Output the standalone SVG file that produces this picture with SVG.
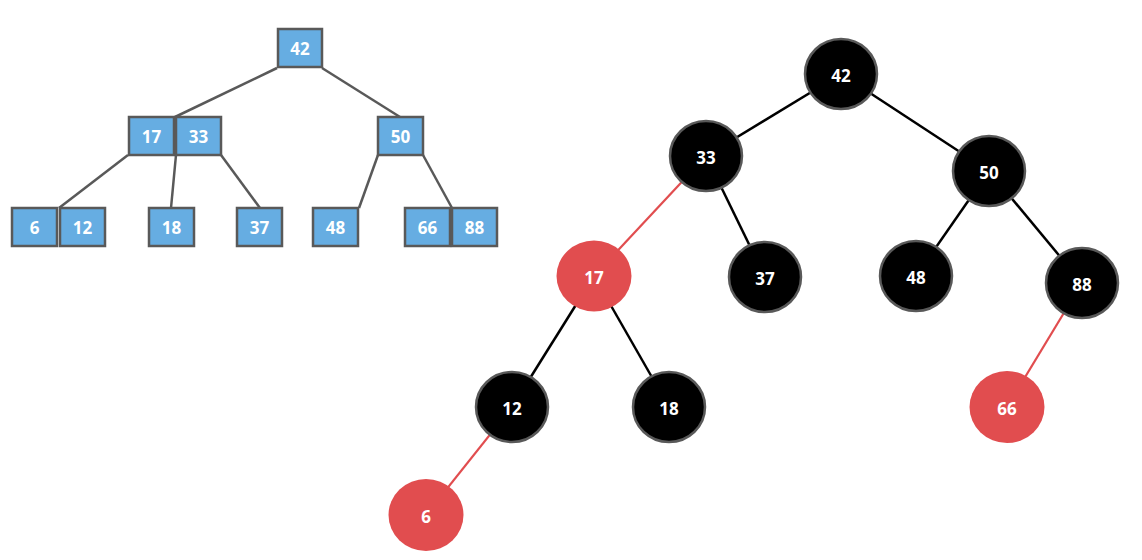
<svg xmlns="http://www.w3.org/2000/svg" width="1142" height="560" viewBox="0 0 1142 560">
<style>
.box{fill:#66ADE2;stroke:#595959;stroke-width:2.5}
.blk{fill:#000;stroke:#595959;stroke-width:2.5}
.red{fill:#E14D4F}
.t{fill:#fff;font-family:"Open Sans","Noto Sans","DejaVu Sans",sans-serif;font-weight:bold;font-size:17px;text-anchor:middle;dominant-baseline:central}
.g{stroke:#595959;stroke-width:2.5;fill:none}
.k{stroke:#000;stroke-width:2.5;fill:none}
.r{stroke:#E14D4F;stroke-width:2.2;fill:none}
</style>
<rect width="1142" height="560" fill="#fff"/>
<g id="connectors">
<line class="g" x1="277" y1="68" x2="175" y2="117"/>
<line class="g" x1="322" y1="68" x2="400" y2="117"/>
<line class="g" x1="128" y1="155" x2="59" y2="208"/>
<line class="g" x1="176" y1="155" x2="171" y2="208"/>
<line class="g" x1="221" y1="155" x2="260" y2="208"/>
<line class="g" x1="378" y1="155" x2="359" y2="208"/>
<line class="g" x1="423" y1="155" x2="452" y2="208"/>
<line class="k" x1="841" y1="74" x2="706" y2="156"/>
<line class="k" x1="841" y1="74" x2="989" y2="171"/>
<line class="r" x1="706" y1="156" x2="594" y2="276"/>
<line class="k" x1="706" y1="156" x2="765" y2="277"/>
<line class="k" x1="594" y1="276" x2="512" y2="407"/>
<line class="k" x1="594" y1="276" x2="669" y2="407"/>
<line class="r" x1="512" y1="407" x2="426" y2="515"/>
<line class="k" x1="989" y1="171" x2="916" y2="276"/>
<line class="k" x1="989" y1="171" x2="1082" y2="283"/>
<line class="r" x1="1082" y1="283" x2="1007" y2="407"/>
</g>
<g id="b42"><rect class="box" x="278" y="29" width="44" height="38"/><text class="t" x="300" y="48">42</text></g>
<g id="b17"><rect class="box" x="129" y="117" width="45" height="38"/><text class="t" x="151.5" y="136">17</text></g>
<g id="b33"><rect class="box" x="176" y="117" width="45" height="38"/><text class="t" x="198.5" y="136">33</text></g>
<g id="b50"><rect class="box" x="378" y="117" width="45" height="38"/><text class="t" x="400.5" y="136">50</text></g>
<g id="b6"><rect class="box" x="12" y="208" width="45" height="38"/><text class="t" x="34.5" y="227">6</text></g>
<g id="b12"><rect class="box" x="60" y="208" width="45" height="38"/><text class="t" x="82.5" y="227">12</text></g>
<g id="b18"><rect class="box" x="149" y="208" width="45" height="38"/><text class="t" x="171.5" y="227">18</text></g>
<g id="b37"><rect class="box" x="237" y="208" width="45" height="38"/><text class="t" x="259.5" y="227">37</text></g>
<g id="b48"><rect class="box" x="313" y="208" width="45" height="38"/><text class="t" x="335.5" y="227">48</text></g>
<g id="b66"><rect class="box" x="405" y="208" width="45" height="38"/><text class="t" x="427.5" y="227">66</text></g>
<g id="b88"><rect class="box" x="452" y="208" width="45" height="38"/><text class="t" x="474.5" y="227">88</text></g>
<g id="n42"><ellipse class="blk" cx="841" cy="74" rx="36" ry="35"/><text class="t" x="841" y="75">42</text></g>
<g id="n33"><ellipse class="blk" cx="706" cy="156" rx="36" ry="35"/><text class="t" x="706" y="157">33</text></g>
<g id="n50"><ellipse class="blk" cx="989" cy="171" rx="36" ry="35"/><text class="t" x="989" y="172">50</text></g>
<g id="n17"><ellipse class="red" cx="594" cy="276" rx="37.5" ry="35.5"/><text class="t" x="594" y="277">17</text></g>
<g id="n37"><ellipse class="blk" cx="765" cy="277" rx="36" ry="35"/><text class="t" x="765" y="278">37</text></g>
<g id="n48"><ellipse class="blk" cx="916" cy="276" rx="36" ry="35"/><text class="t" x="916" y="277">48</text></g>
<g id="n88"><ellipse class="blk" cx="1082" cy="283" rx="36" ry="35"/><text class="t" x="1082" y="284">88</text></g>
<g id="n12"><ellipse class="blk" cx="512" cy="407" rx="36" ry="35"/><text class="t" x="512" y="408">12</text></g>
<g id="n18"><ellipse class="blk" cx="669" cy="407" rx="36" ry="35"/><text class="t" x="669" y="408">18</text></g>
<g id="n66"><ellipse class="red" cx="1007" cy="407" rx="37.5" ry="36"/><text class="t" x="1007" y="408">66</text></g>
<g id="n6"><ellipse class="red" cx="426" cy="515" rx="37.5" ry="36"/><text class="t" x="426" y="516">6</text></g>
</svg>
